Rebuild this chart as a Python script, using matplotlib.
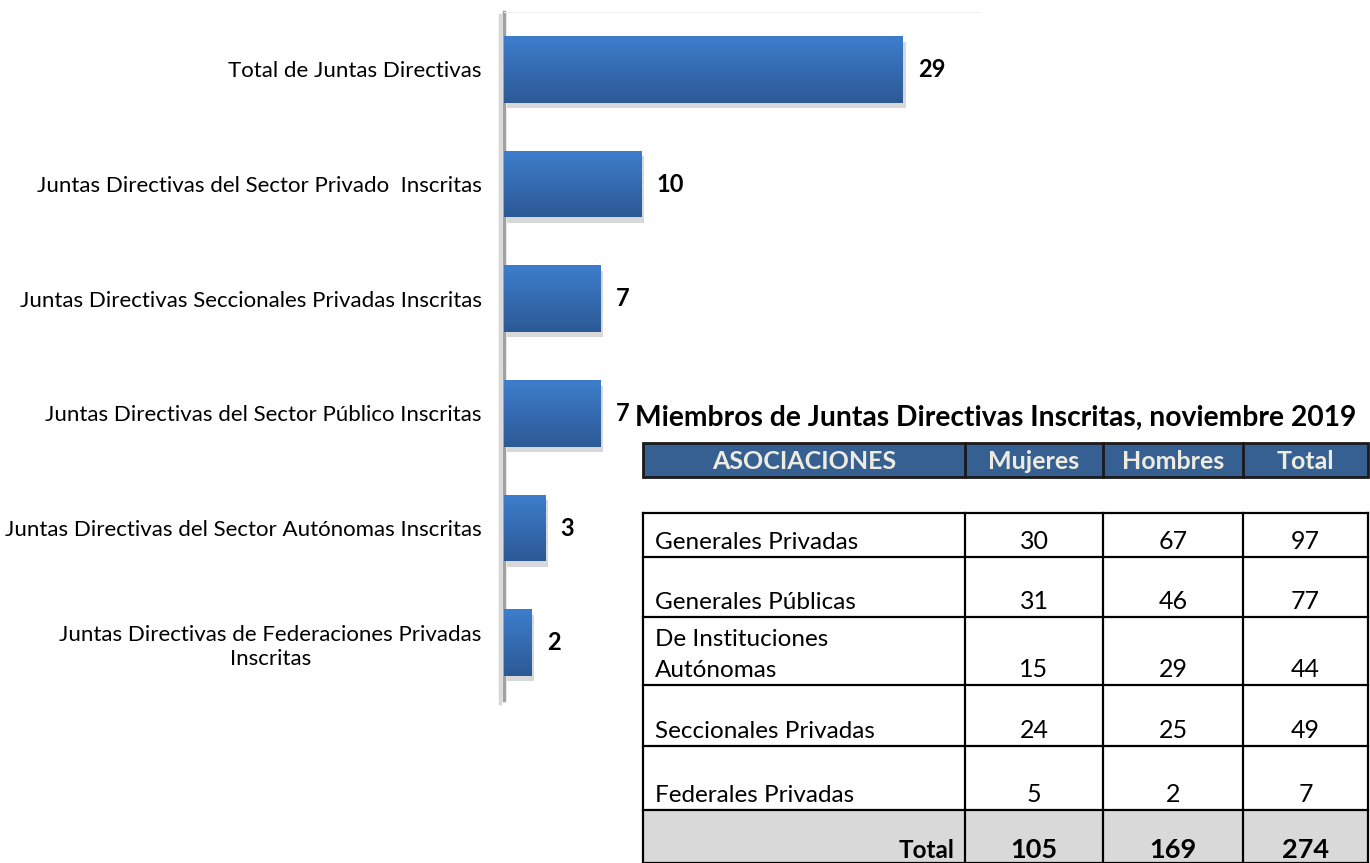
"""
Juntas directivas inscritas: barras horizontales + tabla de miembros (nov. 2019).
"""

import numpy as np
import matplotlib.pyplot as plt
from matplotlib import patheffects
from matplotlib.colors import LinearSegmentedColormap
from matplotlib.patches import Rectangle

plt.rcParams["font.family"] = ["Lato", "DejaVu Sans"]

# --- datos del grafico de barras ---
categorias = [
    "Total de Juntas Directivas",
    "Juntas Directivas del Sector Privado  Inscritas",
    "Juntas Directivas Seccionales Privadas Inscritas",
    "Juntas Directivas del Sector Público Inscritas",
    "Juntas Directivas del Sector Autónomas Inscritas",
    "Juntas Directivas de Federaciones Privadas\nInscritas",
]
juntas = [29, 10, 7, 7, 3, 2]

# --- datos de la tabla ---
titulo_tabla = "Miembros de Juntas Directivas Inscritas, noviembre 2019"
encabezados = ["ASOCIACIONES", "Mujeres", "Hombres", "Total"]
asociaciones = [
    "Generales Privadas",
    "Generales Públicas",
    "De Instituciones\nAutónomas",
    "Seccionales Privadas",
    "Federales Privadas",
]
mujeres = [30, 31, 15, 24, 5]
hombres = [67, 46, 29, 25, 2]
totales = [97, 77, 44, 49, 7]

W, H = 1370, 863
fig = plt.figure(figsize=(W / 100, H / 100), dpi=100)

# ---------------- grafico de barras ----------------
ax = fig.add_axes([504 / W, 1 - 700 / H, (980 - 504) / W, (700 - 12) / H])
y = np.arange(len(categorias))
sombra = [patheffects.SimplePatchShadow(offset=(2, -4), shadow_rgbFace="#808080", alpha=0.3),
          patheffects.Normal()]
barras = ax.barh(y, juntas, height=0.58, color="#3366AA", zorder=2, path_effects=sombra)

grad = np.linspace(0, 1, 256).reshape(-1, 1)
cmap = LinearSegmentedColormap.from_list("azul", ["#3D7ECC", "#2C5995"])
for b in barras:
    x0, y0 = b.get_x(), b.get_y()
    im = ax.imshow(grad, cmap=cmap, aspect="auto", zorder=3,
                   extent=(x0, x0 + b.get_width(), y0 + b.get_height(), y0))
    im.set_clip_path(b)

for yi, v in zip(y, juntas):
    ax.annotate(str(v), xy=(v, yi), xytext=(11, 0), textcoords="offset points",
                ha="left", va="center", fontsize=17, fontweight="bold")

ax.set_xlim(0, 34.6)
ax.set_ylim(len(categorias) - 0.5, -0.5)
ax.set_xticks([])
ax.set_yticks(y, categorias, fontsize=16)
for lab in ax.get_yticklabels():
    lab.set_multialignment("center")
    lab.set_linespacing(1.3)
ax.tick_params(axis="y", length=0, pad=16)
for s in ["right", "bottom"]:
    ax.spines[s].set_visible(False)
ax.spines["top"].set_color("#F0F0F0")
ax.spines["left"].set_color("#A0A0A0")
ax.spines["left"].set_linewidth(2.5)
ax.spines["left"].set_path_effects([
    patheffects.SimpleLineShadow(offset=(-3, -2), shadow_color="#909090", alpha=0.35),
    patheffects.Normal()])

# ---------------- tabla ----------------
tab = fig.add_axes([0, 0, 1, 1])
tab.set_xlim(0, W)
tab.set_ylim(H, 0)
tab.axis("off")

col_x = [643, 965, 1103, 1243, 1368]
enc_y = (443, 477)
filas_y = [513, 557, 617, 685, 746, 810, 863]

tab.text((col_x[0] + col_x[-1]) / 2 - 10, 418, titulo_tabla, ha="center", va="center",
         fontsize=20.3, fontweight="bold")

tab.add_patch(Rectangle((col_x[0], enc_y[0]), col_x[-1] - col_x[0], enc_y[1] - enc_y[0],
                        facecolor="#376092", edgecolor="#1A1A1A", linewidth=2))
for cx in col_x[1:-1]:
    tab.plot([cx, cx], enc_y, color="#1A1A1A", lw=2)
for i, txt in enumerate(encabezados):
    tab.text((col_x[i] + col_x[i + 1]) / 2, sum(enc_y) / 2 + 1, txt, ha="center", va="center",
             fontsize=18, fontweight="bold", color="#EEECE1")

# fila de total con fondo gris
tab.add_patch(Rectangle((col_x[0], filas_y[-2]), col_x[-1] - col_x[0], filas_y[-1] - filas_y[-2],
                        facecolor="#D9D9D9", edgecolor="none"))
for fy in filas_y:
    tab.plot([col_x[0], col_x[-1]], [fy, fy], color="black", lw=1.6)
for cx in col_x:
    tab.plot([cx, cx], [filas_y[0], filas_y[-1]], color="black", lw=1.6)

for i, nombre in enumerate(asociaciones):
    base = filas_y[i + 1] - 8
    tab.text(col_x[0] + 12, base, nombre, ha="left", va="baseline", fontsize=17.5,
             linespacing=1.6)
    for j, val in enumerate([mujeres[i], hombres[i], totales[i]]):
        tab.text((col_x[j + 1] + col_x[j + 2]) / 2, base, str(val), ha="center",
                 va="baseline", fontsize=18)

base = filas_y[-1] - 5
tab.text(col_x[1] - 10, base, "Total", ha="right", va="baseline", fontsize=17.5,
         fontweight="bold")
for j, val in enumerate([sum(mujeres), sum(hombres), sum(totales)]):
    tab.text((col_x[j + 1] + col_x[j + 2]) / 2, base, str(val), ha="center",
             va="baseline", fontsize=19.5, fontweight="bold")

fig.savefig("out.png", dpi=100)
